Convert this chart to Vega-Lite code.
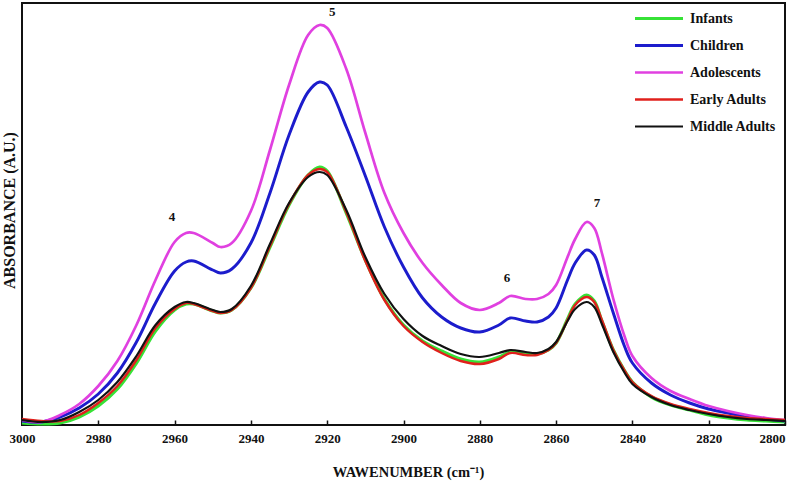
{
  "$schema": "https://vega.github.io/schema/vega-lite/v6.json",
  "width": 763,
  "height": 422,
  "autosize": "none",
  "padding": {"left": 22, "top": 3, "right": 11, "bottom": 56},
  "background": "white",
  "config": {"view": {"stroke": "#111", "strokeWidth": 2}, "font": "Liberation Serif"},
  "layer": [
    {
      "data": {"values": [
        {"wn": 3000, "Infants": 2, "Children": 4, "Adolescents": 5, "Early Adults": 6, "Middle Adults": 5},
        {"wn": 2995, "Infants": 1, "Children": 3, "Adolescents": 3, "Early Adults": 4, "Middle Adults": 3},
        {"wn": 2990, "Infants": 2, "Children": 8, "Adolescents": 10, "Early Adults": 4, "Middle Adults": 5},
        {"wn": 2985, "Infants": 8, "Children": 17, "Adolescents": 21, "Early Adults": 10, "Middle Adults": 13},
        {"wn": 2980, "Infants": 19, "Children": 31, "Adolescents": 39, "Early Adults": 22, "Middle Adults": 25},
        {"wn": 2975, "Infants": 36, "Children": 52, "Adolescents": 64, "Early Adults": 39, "Middle Adults": 43},
        {"wn": 2970, "Infants": 62, "Children": 83, "Adolescents": 100, "Early Adults": 65, "Middle Adults": 69},
        {"wn": 2965, "Infants": 94, "Children": 122, "Adolescents": 145, "Early Adults": 97, "Middle Adults": 100},
        {"wn": 2960, "Infants": 115, "Children": 154, "Adolescents": 183, "Early Adults": 116, "Middle Adults": 118},
        {"wn": 2957, "Infants": 121, "Children": 163, "Adolescents": 192, "Early Adults": 122, "Middle Adults": 123},
        {"wn": 2955, "Infants": 121, "Children": 164, "Adolescents": 192, "Early Adults": 121, "Middle Adults": 122},
        {"wn": 2950, "Infants": 114, "Children": 155, "Adolescents": 182, "Early Adults": 114, "Middle Adults": 115},
        {"wn": 2948, "Infants": 112, "Children": 152, "Adolescents": 178, "Early Adults": 112, "Middle Adults": 113},
        {"wn": 2945, "Infants": 115, "Children": 156, "Adolescents": 182, "Early Adults": 115, "Middle Adults": 116},
        {"wn": 2940, "Infants": 137, "Children": 182, "Adolescents": 214, "Early Adults": 137, "Middle Adults": 139},
        {"wn": 2935, "Infants": 178, "Children": 232, "Adolescents": 275, "Early Adults": 179, "Middle Adults": 181},
        {"wn": 2930, "Infants": 220, "Children": 290, "Adolescents": 340, "Early Adults": 221, "Middle Adults": 222},
        {"wn": 2925, "Infants": 250, "Children": 333, "Adolescents": 390, "Early Adults": 250, "Middle Adults": 248},
        {"wn": 2922, "Infants": 258, "Children": 343, "Adolescents": 400, "Early Adults": 256, "Middle Adults": 253},
        {"wn": 2920, "Infants": 254, "Children": 340, "Adolescents": 397, "Early Adults": 253, "Middle Adults": 250},
        {"wn": 2915, "Infants": 212, "Children": 298, "Adolescents": 356, "Early Adults": 213, "Middle Adults": 215},
        {"wn": 2910, "Infants": 165, "Children": 249, "Adolescents": 292, "Early Adults": 164, "Middle Adults": 168},
        {"wn": 2905, "Infants": 126, "Children": 198, "Adolescents": 232, "Early Adults": 125, "Middle Adults": 131},
        {"wn": 2900, "Infants": 100, "Children": 158, "Adolescents": 192, "Early Adults": 99, "Middle Adults": 106},
        {"wn": 2895, "Infants": 84, "Children": 127, "Adolescents": 162, "Early Adults": 83, "Middle Adults": 89},
        {"wn": 2890, "Infants": 74, "Children": 108, "Adolescents": 140, "Early Adults": 72, "Middle Adults": 79},
        {"wn": 2885, "Infants": 66, "Children": 97, "Adolescents": 122, "Early Adults": 64, "Middle Adults": 71},
        {"wn": 2880, "Infants": 63, "Children": 93, "Adolescents": 115, "Early Adults": 61, "Middle Adults": 68},
        {"wn": 2875, "Infants": 68, "Children": 100, "Adolescents": 122, "Early Adults": 66, "Middle Adults": 72},
        {"wn": 2872, "Infants": 73, "Children": 107, "Adolescents": 129, "Early Adults": 72, "Middle Adults": 75},
        {"wn": 2868, "Infants": 71, "Children": 104, "Adolescents": 126, "Early Adults": 70, "Middle Adults": 73},
        {"wn": 2865, "Infants": 71, "Children": 103, "Adolescents": 126, "Early Adults": 70, "Middle Adults": 72},
        {"wn": 2862, "Infants": 75, "Children": 108, "Adolescents": 131, "Early Adults": 75, "Middle Adults": 76},
        {"wn": 2860, "Infants": 82, "Children": 117, "Adolescents": 140, "Early Adults": 82, "Middle Adults": 83},
        {"wn": 2857, "Infants": 106, "Children": 145, "Adolescents": 168, "Early Adults": 105, "Middle Adults": 104},
        {"wn": 2855, "Infants": 121, "Children": 162, "Adolescents": 186, "Early Adults": 120, "Middle Adults": 116},
        {"wn": 2852, "Infants": 130, "Children": 175, "Adolescents": 203, "Early Adults": 128, "Middle Adults": 123},
        {"wn": 2850, "Infants": 124, "Children": 170, "Adolescents": 197, "Early Adults": 123, "Middle Adults": 118},
        {"wn": 2848, "Infants": 104, "Children": 148, "Adolescents": 172, "Early Adults": 105, "Middle Adults": 101},
        {"wn": 2845, "Infants": 75, "Children": 112, "Adolescents": 126, "Early Adults": 75, "Middle Adults": 73},
        {"wn": 2842, "Infants": 54, "Children": 78, "Adolescents": 88, "Early Adults": 54, "Middle Adults": 52},
        {"wn": 2840, "Infants": 43, "Children": 62, "Adolescents": 69, "Early Adults": 43, "Middle Adults": 41},
        {"wn": 2835, "Infants": 28, "Children": 42, "Adolescents": 47, "Early Adults": 29, "Middle Adults": 28},
        {"wn": 2830, "Infants": 20, "Children": 30, "Adolescents": 34, "Early Adults": 21, "Middle Adults": 20},
        {"wn": 2825, "Infants": 15, "Children": 22, "Adolescents": 26, "Early Adults": 16, "Middle Adults": 15},
        {"wn": 2820, "Infants": 10, "Children": 16, "Adolescents": 19, "Early Adults": 12, "Middle Adults": 11},
        {"wn": 2815, "Infants": 7, "Children": 12, "Adolescents": 14, "Early Adults": 9, "Middle Adults": 8},
        {"wn": 2810, "Infants": 5, "Children": 8, "Adolescents": 10, "Early Adults": 7, "Middle Adults": 6},
        {"wn": 2805, "Infants": 4, "Children": 6, "Adolescents": 7, "Early Adults": 6, "Middle Adults": 5},
        {"wn": 2800, "Infants": 3, "Children": 4, "Adolescents": 5, "Early Adults": 5, "Middle Adults": 4}
      ]},
      "transform": [{"fold": ["Infants", "Children", "Adolescents", "Early Adults", "Middle Adults"], "as": ["group", "a"]}],
      "mark": {"type": "line", "interpolate": "catmull-rom"},
      "encoding": {
        "x": {
          "field": "wn", "type": "quantitative",
          "scale": {"domain": [2800, 3000], "reverse": true, "nice": false, "zero": false},
          "axis": {
            "values": [3000, 2980, 2960, 2940, 2920, 2900, 2880, 2860, 2840, 2820, 2800],
            "format": "d", "title": "WAWENUMBER (cm⁻¹)", "grid": false, "domain": false,
            "tickSize": -5, "tickColor": "#111", "tickWidth": 1.5,
            "labelFont": "Liberation Serif", "labelFontWeight": "bold", "labelFontSize": 13, "labelColor": "#111",
            "labelPadding": 12, "labelFlush": false,
            "labelAlign": {"condition": {"test": "datum.value == 2800", "value": "right"}, "value": "center"},
            "titleFont": "Liberation Serif", "titleFontWeight": "bold", "titleFontSize": 14.5, "titleColor": "#111",
            "titlePadding": 20, "titleX": 386, "titleAlign": "center"
          }
        },
        "y": {
          "field": "a", "type": "quantitative",
          "scale": {"domain": [0, 422], "nice": false},
          "axis": {
            "title": "ABSORBANCE (A.U.)", "labels": false, "ticks": false, "domain": false, "grid": false,
            "titleFont": "Liberation Serif", "titleFontWeight": "bold", "titleFontSize": 16, "titleColor": "#111",
            "titlePadding": 5, "titleY": 207
          }
        },
        "color": {
          "field": "group", "type": "nominal",
          "scale": {"domain": ["Infants", "Children", "Adolescents", "Early Adults", "Middle Adults"],
                    "range": ["#36e236", "#1c1ccc", "#e040e0", "#e0201c", "#111111"]},
          "legend": {
            "orient": "none", "legendX": 611, "legendY": 8, "title": null, "padding": 0,
            "symbolType": "stroke", "symbolSize": 2304, "symbolStrokeWidth": 3.5,
            "clipHeight": 15, "rowPadding": 12,
            "labelFont": "Liberation Serif", "labelFontWeight": "bold", "labelFontSize": 14, "labelColor": "#111", "labelOffset": 5
          }
        },
        "strokeWidth": {
          "field": "group", "type": "nominal",
          "scale": {"domain": ["Infants", "Children", "Adolescents", "Early Adults", "Middle Adults"], "range": [3.2, 2.2, 2.2, 2.2, 2.2]},
          "legend": null
        }
      }
    },
    {
      "data": {"values": [
        {"wn": 2960.7, "a": 208, "t": "4"},
        {"wn": 2918.7, "a": 413, "t": "5"},
        {"wn": 2872.9, "a": 147, "t": "6"},
        {"wn": 2849.3, "a": 222, "t": "7"}
      ]},
      "mark": {"type": "text", "font": "Liberation Serif", "fontWeight": "bold", "fontSize": 13, "color": "#111", "baseline": "middle"},
      "encoding": {
        "x": {"field": "wn", "type": "quantitative"},
        "y": {"field": "a", "type": "quantitative"},
        "text": {"field": "t"}
      }
    }
  ]
}
